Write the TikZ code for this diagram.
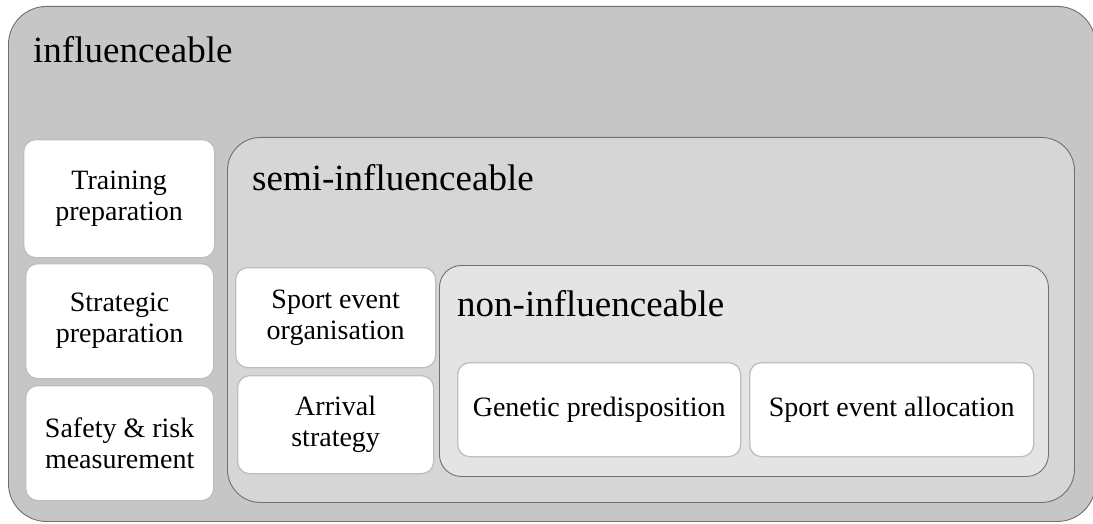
\documentclass[tikz,border=0pt]{standalone}
\usepackage{fontspec}
\setmainfont{Liberation Serif}
\definecolor{outergray}{HTML}{C6C6C6}
\definecolor{semigray}{HTML}{D6D6D6}
\definecolor{nongray}{HTML}{E4E4E4}
\definecolor{edgegray}{HTML}{707070}
\definecolor{boxedge}{HTML}{BEBEBE}

\begin{document}
\begin{tikzpicture}[x=1pt,y=-1pt,
    zone/.style={draw=edgegray,line width=0.9pt,anchor=north west,inner sep=0pt},
    item/.style={draw=boxedge,fill=white,line width=1.3pt,rounded corners=12pt,
        anchor=north west,inner sep=0pt,align=center,font=\fontsize{28}{31}\selectfont},
    title/.style={anchor=base west,inner sep=0pt,font=\fontsize{37}{40}\selectfont}]
    \useasboundingbox (0,0) rectangle (1093,524);

    % Outer zone
    \node[zone,fill=outergray,rounded corners=38pt,minimum width=1087pt,minimum height=515pt] (infl) at (8,6) {};
    \node[title] (inflT) at (33,63) {influenceable};
    \node[item,minimum width=191pt,minimum height=118pt] (train) at (23,139) {Training\\preparation};
    \node[item,minimum width=188pt,minimum height=115pt] (strat) at (25,263) {Strategic\\preparation};
    \node[item,minimum width=188pt,minimum height=115pt] (safe) at (25,385) {Safety \& risk\\measurement};

    % Middle zone
    \node[zone,fill=semigray,rounded corners=33pt,minimum width=847pt,minimum height=365pt] (semi) at (227,137) {};
    \node[title] (semiT) at (252,190) {semi-influenceable};
    \node[item,minimum width=200pt,minimum height=100pt] (org) at (235,267) {Sport event\\organisation};
    \node[item,minimum width=196pt,minimum height=98pt] (arr) at (237,375) {Arrival\\strategy};

    % Inner zone
    \node[zone,fill=nongray,rounded corners=22pt,minimum width=609pt,minimum height=211pt] (non) at (439,265) {};
    \node[title] (nonT) at (457,316) {non-influenceable};
    \node[item,minimum width=283pt,minimum height=94pt] (gen) at (457,362) {Genetic predisposition};
    \node[item,minimum width=284pt,minimum height=94pt] (alloc) at (749,362) {Sport event allocation};
\end{tikzpicture}
\end{document}
